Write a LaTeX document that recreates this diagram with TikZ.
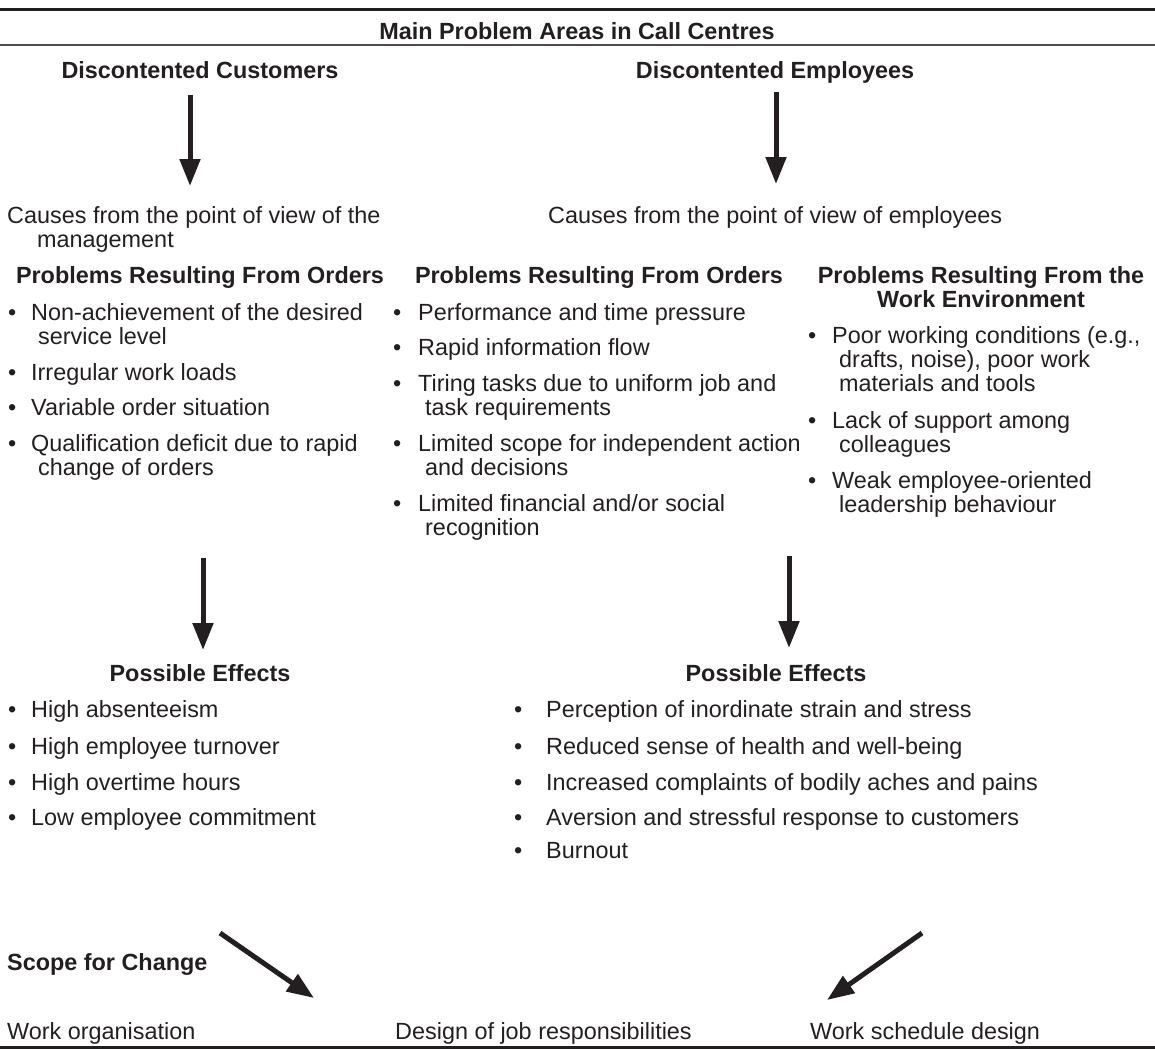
\documentclass[tikz,border=0pt]{standalone}
\usepackage{fontspec}
\setmainfont{Liberation Sans}
\usetikzlibrary{arrows.meta}
\definecolor{ink}{RGB}{35,31,32}
\newcommand{\bodyfont}{\fontsize{23.4}{23.8}\selectfont}
\newcommand{\bul}[1][23pt]{\llap{\makebox[#1][l]{\textbullet}}}
\tikzset{
  txt/.style={anchor=base west, align=left},
  head/.style={anchor=base, align=center, font=\bodyfont\bfseries},
  bigarrow/.style={line width=5pt, -{Triangle[width=20pt,length=27pt]}},
}

\begin{document}
\begin{tikzpicture}[x=1pt, y=-1pt, every node/.style={inner sep=0pt, font=\bodyfont, text=ink}]
    \useasboundingbox (0,0) rectangle (1155,1049);
    % rules
    \draw[ink, line width=3pt] (0,10) -- (1155,10);
    \draw[ink!80, line width=1.5pt] (0,45) -- (1155,45);
    \draw[ink, line width=3pt] (0,1047) -- (1155,1047);

    \node[head] (title) at (577,40) {Main Problem Areas in Call Centres};
    \node[head] (dcust) at (200,78) {Discontented Customers};
    \node[head] (demp) at (775,78) {Discontented Employees};

    \coordinate (a1s) at (190,95);
    \coordinate (a1e) at (190,186);
    \coordinate (a2s) at (776,92);
    \coordinate (a2e) at (776,184);
    \draw[ink, bigarrow] (a1s) -- (a1e);
    \draw[ink, bigarrow] (a2s) -- (a2e);

    % multi-line nodes sit on the baseline of their last line
    \node[txt] (cmgt) at (7,247) {Causes from the point of view of the\\\hspace*{30pt}management};
    \node[txt] (cemp) at (548,223) {Causes from the point of view of employees};

    \node[head] (hord1) at (200,283) {Problems Resulting From Orders};
    \node[head] (hord2) at (599,283) {Problems Resulting From Orders};
    \node[head] (henv) at (981,307) {Problems Resulting From the\\Work Environment};

    % causes, management
    \node[txt] (o1) at (31,344) {\bul Non-achievement of the desired\\\hspace*{7pt}service level};
    \node[txt] (o2) at (31,380) {\bul Irregular work loads};
    \node[txt] (o3) at (31,415) {\bul Variable order situation};
    \node[txt] (o4) at (31,475) {\bul Qualification deficit due to rapid\\\hspace*{7pt}change of orders};

    % causes, employees
    \node[txt] (p1) at (418,320) {\bul[25pt]Performance and time pressure};
    \node[txt] (p2) at (418,355) {\bul[25pt]Rapid information flow};
    \node[txt] (p3) at (418,415) {\bul[25pt]Tiring tasks due to uniform job and\\\hspace*{7pt}task requirements};
    \node[txt] (p4) at (418,475) {\bul[25pt]Limited scope for independent action\\\hspace*{7pt}and decisions};
    \node[txt] (p5) at (418,535) {\bul[25pt]Limited financial and/or social\\\hspace*{7pt}recognition};

    \node[txt] (w1) at (832,391) {\bul[24pt]Poor working conditions (e.g.,\\\hspace*{7pt}drafts, noise), poor work\\\hspace*{7pt}materials and tools};
    \node[txt] (w2) at (832,452) {\bul[24pt]Lack of support among\\\hspace*{7pt}colleagues};
    \node[txt] (w3) at (832,512) {\bul[24pt]Weak employee-oriented\\\hspace*{7pt}leadership behaviour};

    \coordinate (b1s) at (203,558);
    \coordinate (b1e) at (203,650);
    \coordinate (b2s) at (789,556);
    \coordinate (b2e) at (789,648);
    \draw[ink, bigarrow] (b1s) -- (b1e);
    \draw[ink, bigarrow] (b2s) -- (b2e);

    % effects
    \node[head] (eff1) at (200,681) {Possible Effects};
    \node[head] (eff2) at (776,681) {Possible Effects};

    \node[txt] (e1) at (31,717) {\bul High absenteeism};
    \node[txt] (e2) at (31,754) {\bul High employee turnover};
    \node[txt] (e3) at (31,790) {\bul High overtime hours};
    \node[txt] (e4) at (31,825) {\bul Low employee commitment};

    \node[txt] (s1) at (546,717) {\bul[32pt]Perception of inordinate strain and stress};
    \node[txt] (s2) at (546,754) {\bul[32pt]Reduced sense of health and well-being};
    \node[txt] (s3) at (546,790) {\bul[32pt]Increased complaints of bodily aches and pains};
    \node[txt] (s4) at (546,825) {\bul[32pt]Aversion and stressful response to customers};
    \node[txt] (s5) at (546,858) {\bul[32pt]Burnout};

    % scope for change
    \node[txt, font=\bodyfont\bfseries] (scope) at (7,970) {Scope for Change};
    \coordinate (c1s) at (220,933);
    \coordinate (c1e) at (314,998);
    \coordinate (c2s) at (922,933);
    \coordinate (c2e) at (827,1000);
    \draw[ink, bigarrow] (c1s) -- (c1e);
    \draw[ink, bigarrow] (c2s) -- (c2e);

    \node[txt] (m1) at (7,1039) {Work organisation};
    \node[txt] (m2) at (395,1039) {Design of job responsibilities};
    \node[txt] (m3) at (810,1039) {Work schedule design};
\end{tikzpicture}
\end{document}
